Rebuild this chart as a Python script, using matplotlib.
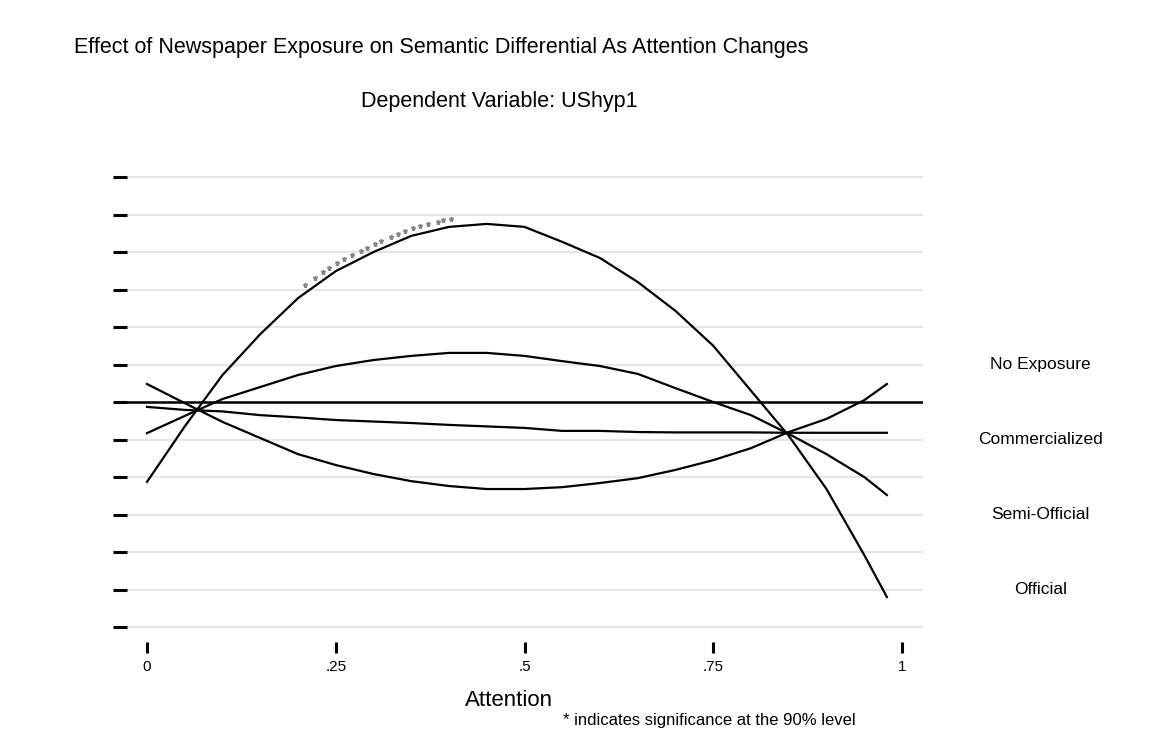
import numpy as np
import matplotlib
matplotlib.use("Agg")
from matplotlib import pyplot as plt

plt.rcParams["font.family"] = ["Liberation Sans", "DejaVu Sans"]

# attention values at which each effect curve was evaluated
attention = [0.0, 0.05, 0.10, 0.15, 0.20, 0.25, 0.30, 0.35, 0.40, 0.45, 0.50,
             0.55, 0.60, 0.65, 0.70, 0.75, 0.80, 0.85, 0.90, 0.95, 0.98]

official = [-2.13, -0.65, 0.72, 1.81, 2.77, 3.49, 4.00, 4.43, 4.67, 4.75, 4.67,
            4.27, 3.84, 3.20, 2.43, 1.50, 0.30, -0.90, -2.32, -4.08, -5.20]
semi_official = [-0.83, -0.37, 0.08, 0.40, 0.72, 0.96, 1.12, 1.23, 1.31, 1.31, 1.23,
                 1.09, 0.96, 0.75, 0.37, 0.00, -0.35, -0.85, -1.39, -2.00, -2.48]
mixed = [0.48, -0.03, -0.53, -0.96, -1.39, -1.68, -1.92, -2.11, -2.24, -2.32, -2.32,
         -2.27, -2.16, -2.03, -1.81, -1.55, -1.23, -0.80, -0.45, 0.05, 0.48]
commercialized = [-0.13, -0.21, -0.25, -0.35, -0.41, -0.48, -0.52, -0.56, -0.61, -0.65, -0.69,
                  -0.77, -0.77, -0.80, -0.81, -0.81, -0.81, -0.82, -0.82, -0.82, -0.82]

# attention levels where the official-paper effect is significant
sig_attention = [0.209, 0.223, 0.233, 0.241, 0.252, 0.261, 0.272, 0.283, 0.291, 0.302,
                 0.310, 0.323, 0.332, 0.342, 0.352, 0.362, 0.372, 0.385, 0.392, 0.403]

xtick_values = [0, 0.25, 0.5, 0.75, 1]
xtick_labels = ["0", ".25", ".5", ".75", "1"]
ytick_values = list(range(-6, 7))

group_labels = ["No Exposure", "Commercialized", "Semi-Official", "Official"]
group_label_y = [1, -1, -3, -5]

fig = plt.figure(figsize=(11.5, 7.38), dpi=100)
ax = fig.add_axes([0.11043, 0.1402, 0.69217, 0.6301])

ax.set_xlim(-0.0265, 1.0278)
ax.set_ylim(-6.2, 6.2)

for y in ytick_values:
    if y != 0:
        ax.axhline(y, color="#e6e6e6", lw=1.5, zorder=1)
ax.axhline(0, color="black", lw=1.8, zorder=2)

for series in (official, semi_official, mixed, commercialized):
    ax.plot(attention, series, color="black", lw=1.6, zorder=3)

sig_y = np.interp(sig_attention, attention, official) + 0.21
ax.plot(sig_attention, sig_y, linestyle="none", marker="*", ms=3.6,
        color="#858585", zorder=4)

for sp in ax.spines.values():
    sp.set_visible(False)
ax.spines["bottom"].set_position(("outward", 5.4))

ax.set_yticks(ytick_values)
ax.set_yticklabels([])
ax.tick_params(axis="y", direction="out", length=10, width=2.2, color="black")

ax.set_xticks(xtick_values)
ax.set_xticklabels(xtick_labels)
ax.tick_params(axis="x", direction="out", length=7.9, width=2.2, color="black",
               pad=5, labelsize=11)

for label, y in zip(group_labels, group_label_y):
    ax.text(1.183, y, label, ha="center", va="center", fontsize=12.5, clip_on=False)

fig.text(74 / 1150, 1 - 47 / 738,
         "Effect of Newspaper Exposure on Semantic Differential As Attention Changes",
         ha="left", va="center", fontsize=15.5)
fig.text(499 / 1150, 1 - 101 / 738, "Dependent Variable: UShyp1",
         ha="center", va="center", fontsize=15.5)
fig.text(509 / 1150, 1 - 701 / 738, "Attention", ha="center", va="center", fontsize=16)
fig.text(563 / 1150, 1 - 721 / 738, "* indicates significance at the 90% level",
         ha="left", va="center", fontsize=12)

fig.savefig("out.png", dpi=100)
